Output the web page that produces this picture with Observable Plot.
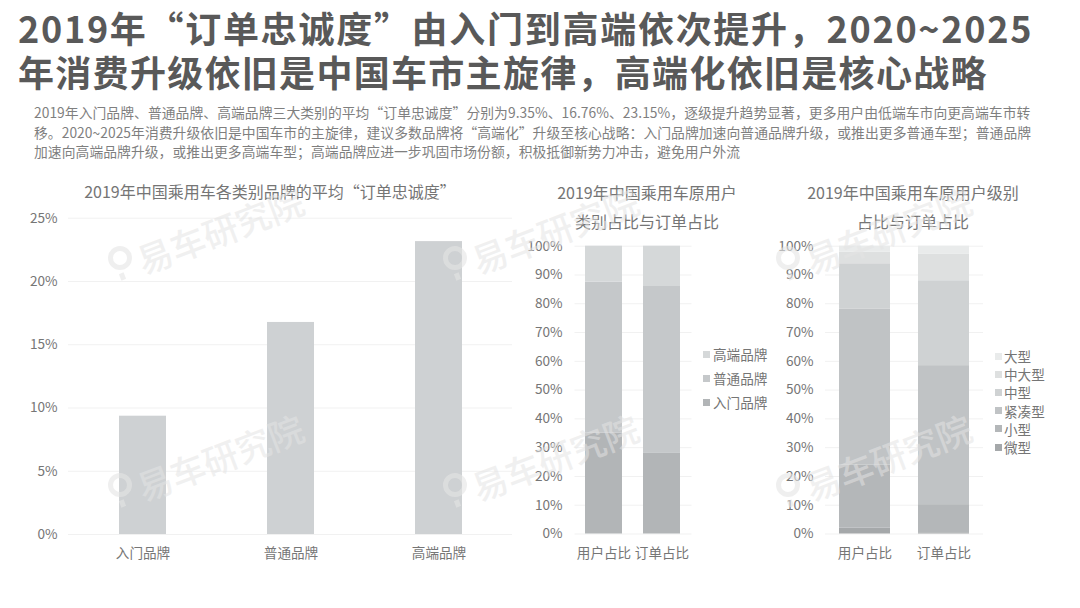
<!DOCTYPE html>
<html lang="zh">
<head>
<meta charset="utf-8">
<script src="https://cdn.jsdelivr.net/npm/d3@7"></script>
<script src="https://cdn.jsdelivr.net/npm/@observablehq/plot@0.6"></script>
<style>
html,body{margin:0;padding:0;background:#fff;}
body{width:1080px;height:608px;position:relative;overflow:hidden;font-family:"Noto Sans CJK SC","Noto Sans",sans-serif;}
.abs{position:absolute;white-space:nowrap;}
.title{left:18px;font-size:36px;font-weight:700;color:#595959;line-height:44px;}
.sub{left:34px;font-size:13.8px;letter-spacing:.05px;color:#7f7f7f;line-height:19px;}
.ct{color:#757575;font-size:16px;line-height:20px;text-align:center;}
.lg{color:#757575;font-size:13.6px;line-height:16px;}
.sw{position:absolute;width:7px;height:7px;}
.wm{position:absolute;font-size:35px;font-weight:500;color:rgba(228,228,228,.55);transform:rotate(-21deg);transform-origin:0 50%;white-space:nowrap;pointer-events:none;}
.ring{position:absolute;width:14px;height:14px;border:5px solid rgba(228,228,228,.6);border-radius:50%;}
.pin{position:absolute;width:5px;height:7px;background:rgba(228,228,228,.6);transform:rotate(-21deg);}
svg{position:absolute;overflow:visible;}
</style>
</head>
<body>
<script>
const titleLines = ["2019年“订单忠诚度”由入门到高端依次提升，2020~2025","年消费升级依旧是中国车市主旋律，高端化依旧是核心战略"];
const subLines = [
 "2019年入门品牌、普通品牌、高端品牌三大类别的平均“订单忠诚度”分别为9.35%、16.76%、23.15%，逐级提升趋势显著，更多用户由低端车市向更高端车市转",
 "移。2020~2025年消费升级依旧是中国车市的主旋律，建议多数品牌将“高端化”升级至核心战略：入门品牌加速向普通品牌升级，或推出更多普通车型；普通品牌",
 "加速向高端品牌升级，或推出更多高端车型；高端品牌应进一步巩固市场份额，积极抵御新势力冲击，避免用户外流"];

const brandCats = ["入门品牌","普通品牌","高端品牌"];
const loyalty = [9.35,16.76,23.15];
const shareCats = ["用户占比","订单占比"];
const brandUser = [35,52.5,12.5];
const brandOrder = [28,58,14];
const brandColors = ["#b2b5b7","#c5c8ca","#d5d8d9"];
const classCats = ["微型","小型","紧凑型","中型","中大型","大型"];
const classUser = [2,22,54.2,15.7,4,2.1];
const classOrder = [0.2,10,48.3,29.5,9.3,2.7];
const classColors = ["#a5a8aa","#b4b7b9","#c0c3c5","#cfd2d3","#dee0e0","#e9ebeb"];

function add(cls,css,txt){const d=document.createElement("div");d.className=cls;d.style.cssText=css;if(txt!=null)d.textContent=txt;document.body.appendChild(d);return d;}

titleLines.forEach((t,i)=>add("abs title",`top:${5+i*44}px;letter-spacing:${i?1.3:1.72}px`,t));
subLines.forEach((t,i)=>add("abs sub",`top:${103+i*19.7}px`,t));

const axisColor="#767676";
function frame(left,top,w,h,ml,mr,mt,mb,xDomain,yMax,yTicks,marks,pad,yPad){
  const p=Plot.plot({width:w,height:h,marginLeft:ml,marginRight:mr,marginTop:mt,marginBottom:mb,
    style:{fontFamily:'"Noto Sans CJK SC",sans-serif',fontSize:"13.6px",color:axisColor,background:"transparent"},
    x:{domain:xDomain,paddingInner:pad,paddingOuter:pad/2,align:0.5,label:null,tickSize:0,tickPadding:14},
    y:{domain:[0,yMax],ticks:yTicks,label:null,tickSize:0,tickPadding:yPad,tickFormat:d=>d+"%",grid:false},
    marks:[Plot.gridY(yTicks,{stroke:"#f1f1f1",strokeOpacity:1}),...marks]});
  p.style.left=left+"px";p.style.top=top+"px";
  document.body.appendChild(p);
}
function stackedRows(cats,user,order){
  return cats.flatMap((c,i)=>[{x:shareCats[0],c,v:user[i],o:i},{x:shareCats[1],c,v:order[i],o:i}]);
}
function stackMark(rows,colors){
  return Plot.barY(rows,Plot.stackY({x:"x",y:"v",order:d=>d.o,fill:d=>colors[d.o]}));
}

// chart 1
frame(0,200,530,370,68,18,17.7,36,brandCats,25,[0,5,10,15,20,25],
  [Plot.barY(brandCats.map((c,i)=>({c,v:loyalty[i]})),{x:"c",y:"v",fill:"#ced1d3"})],0.685,11);
// chart 2
frame(520,230,190,340,54.5,18.5,15.7,36.5,shareCats,100,d3.range(0,101,10),
  [stackMark(stackedRows(brandCats,brandUser,brandOrder),brandColors)],0.36,12.5);
// chart 3
frame(770,230,230,340,55,17,15.7,36.5,shareCats,100,d3.range(0,101,10),
  [stackMark(stackedRows(classCats,classUser,classOrder),classColors)],0.355,12);

// chart titles
add("abs ct","left:60px;width:420px;top:181px;","2019年中国乘用车各类别品牌的平均“订单忠诚度”");
add("abs ct","left:552px;width:190px;top:182px;","2019年中国乘用车原用户");
add("abs ct","left:552px;width:190px;top:211px;","类别占比与订单占比");
add("abs ct","left:783px;width:260px;top:182px;","2019年中国乘用车原用户级别");
add("abs ct","left:783px;width:260px;top:211px;","占比与订单占比");

// legends
["高端品牌","普通品牌","入门品牌"].forEach((t,i)=>{const y=354+i*24;
  add("sw",`left:703px;top:${y-3.5}px;background:${brandColors[2-i]}`);
  add("abs lg",`left:713px;top:${y-8}px`,t);});
[...classCats].reverse().forEach((t,i)=>{const y=356+i*18.2;
  add("sw",`left:995px;top:${y-3.5}px;background:${classColors[5-i]}`);
  add("abs lg",`left:1004px;top:${y-8}px`,t);});

// watermarks
[[108,258],[108,485],[443,258],[443,485],[776,258],[776,485]].forEach(([x,y])=>{
  add("ring",`left:${x}px;top:${y-12}px`);
  add("pin",`left:${x+12}px;top:${y+15}px`);
  add("wm",`left:${x+30}px;top:${y-23}px`,"易车研究院");
});
</script>
</body>
</html>
